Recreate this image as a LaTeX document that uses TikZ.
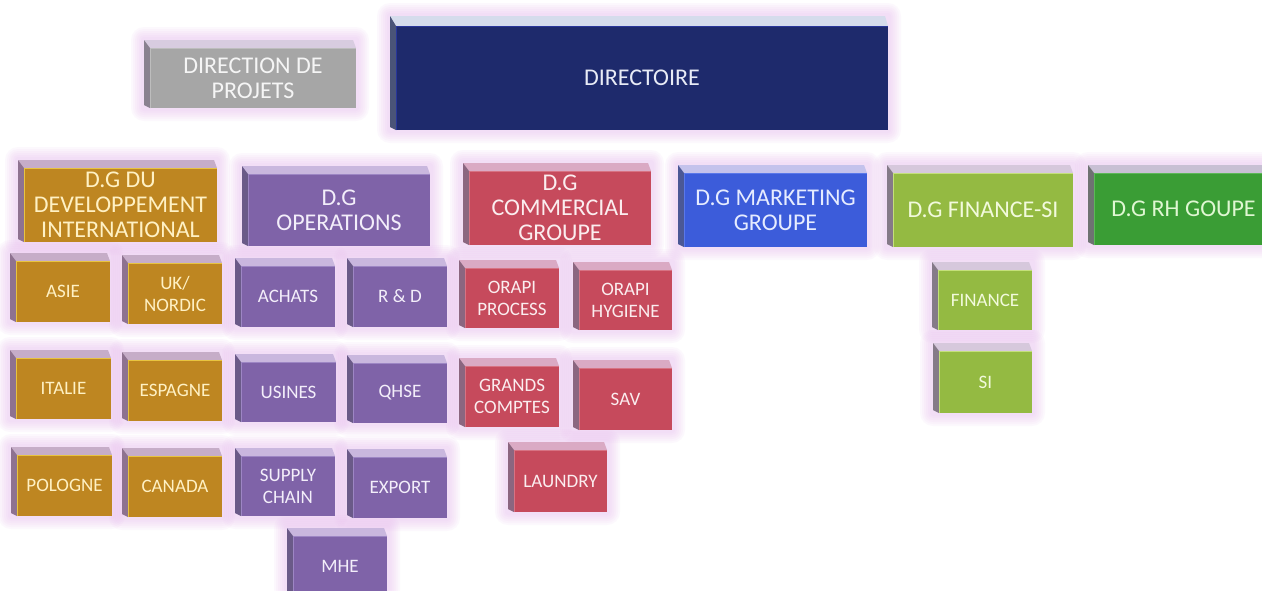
\documentclass[tikz,border=0pt]{standalone}
\usepackage{fontspec}
\setmainfont{Carlito}
\pgfdeclarelayer{bg}
\pgfsetlayers{bg,main}
% glow
\definecolor{glowP}{HTML}{E7B6EE}
% navy
\definecolor{navF}{HTML}{1E2A6C}\definecolor{navT}{HTML}{D5DCEC}\definecolor{navL}{HTML}{4A5478}\definecolor{navX}{HTML}{E8EBF6}\definecolor{navE}{HTML}{28369A}
% gray
\definecolor{grF}{HTML}{A6A6A6}\definecolor{grT}{HTML}{D8CCE0}\definecolor{grL}{HTML}{8A8290}\definecolor{grX}{HTML}{F5F5F5}\definecolor{grE}{HTML}{BDBDBD}
% orange
\definecolor{orF}{HTML}{BE8621}\definecolor{orT}{HTML}{C6ADC8}\definecolor{orL}{HTML}{8E7290}\definecolor{orX}{HTML}{FFF1C4}\definecolor{orE}{HTML}{E8C440}
% purple
\definecolor{puF}{HTML}{7F63A8}\definecolor{puT}{HTML}{C9B7DE}\definecolor{puL}{HTML}{6A5A88}\definecolor{puX}{HTML}{F3EEFA}\definecolor{puE}{HTML}{9D86C4}
% red
\definecolor{reF}{HTML}{C64A5C}\definecolor{reT}{HTML}{DAAAC4}\definecolor{reL}{HTML}{8B6680}\definecolor{reX}{HTML}{FBEDEF}\definecolor{reE}{HTML}{D77383}
% blue
\definecolor{blF}{HTML}{3C5CDA}\definecolor{blT}{HTML}{C4C2EC}\definecolor{blL}{HTML}{4B5896}\definecolor{blX}{HTML}{E6ECFF}\definecolor{blE}{HTML}{5A78EA}
% lime
\definecolor{liF}{HTML}{94BA42}\definecolor{liT}{HTML}{D6C8DC}\definecolor{liL}{HTML}{857A88}\definecolor{liX}{HTML}{F2FADC}\definecolor{liE}{HTML}{C4E07A}
% green
\definecolor{gnF}{HTML}{3A9D35}\definecolor{gnT}{HTML}{C8C0D4}\definecolor{gnL}{HTML}{6E7272}\definecolor{gnX}{HTML}{DFF7D2}\definecolor{gnE}{HTML}{5CB858}
\newcommand\bigf{\fontsize{24}{25}\selectfont}
\newcommand\smallf{\fontsize{19}{22}\selectfont}
\def\dx{6}\def\dy{8}
% name, x0, y0, x1, y1, family, font, text
\newcommand\obox[8]{%
 \begin{pgfonlayer}{bg}
  \foreach \e in {13,11,9,7,5,3}{
   \fill[glowP,fill opacity=0.085,rounded corners={\e pt}] ({#2-\e},{#3-\e}) rectangle ({#4+\e},{#5+\e});
  }
 \end{pgfonlayer}
 \fill[#6T] (#2,#3) -- ({#4-3},#3) -- (#4,{#3+\dy}) -- ({#2+\dx},{#3+\dy}) -- cycle;
 \fill[#6L] (#2,#3) -- ({#2+\dx},{#3+\dy}) -- ({#2+\dx},#5) -- (#2,{#5-3}) -- cycle;
 \node[inner sep=0pt, outer sep=0pt, fill=#6F, text=#6X, font=#7, align=center,
   minimum width={#4-#2-\dx}, minimum height={#5-#3-\dy}]
   (#1) at ({(#2+\dx+#4)/2},{(#3+\dy+#5)/2}) {#8};
 \draw[#6E, line width=1pt] ({#2+\dx+0.5},#5) -- ({#2+\dx+0.5},{#3+\dy+0.5}) -- (#4,{#3+\dy+0.5});
}
\begin{document}
\begin{tikzpicture}[x=1pt,y=-1pt]
\begin{pgfonlayer}{bg}
\fill[white] (0,0) rectangle (1262,590);
\end{pgfonlayer}
\useasboundingbox (0,0) rectangle (1262,590);
% top level
\obox{dirproj}{144}{40}{356}{108}{gr}{\bigf}{DIRECTION DE\\PROJETS}
{\def\dy{10}\obox{directoire}{390}{16}{888}{130}{nav}{\bigf}{DIRECTOIRE}}
% D.G level
\obox{dgdev}{18}{160}{217}{242}{or}{\bigf}{D.G DU\\DEVELOPPEMENT\\INTERNATIONAL}
\obox{dgops}{242}{166}{430}{246}{pu}{\bigf}{D.G\\OPERATIONS}
\obox{dgcom}{463}{163}{651}{245}{re}{\bigf}{D.G\\COMMERCIAL\\GROUPE}
\obox{dgmkt}{678}{165}{867}{247}{bl}{\bigf}{D.G MARKETING\\GROUPE}
\obox{dgfin}{887}{165}{1073}{247}{li}{\bigf}{D.G FINANCE-SI}
\obox{dgrh}{1088}{165}{1273}{245}{gn}{\bigf}{D.G RH GOUPE}
% international
\obox{asie}{10}{253}{110}{322}{or}{\smallf}{ASIE}
\obox{uk}{122}{255}{222}{324}{or}{\smallf}{UK/\\NORDIC}
\obox{italie}{10}{350}{111}{419}{or}{\smallf}{ITALIE}
\obox{espagne}{122}{352}{222}{421}{or}{\smallf}{ESPAGNE}
\obox{pologne}{11}{447}{112}{516}{or}{\smallf}{POLOGNE}
\obox{canada}{122}{448}{222}{517}{or}{\smallf}{CANADA}
% operations
\obox{achats}{235}{258}{335}{327}{pu}{\smallf}{ACHATS}
\obox{rd}{347}{258}{447}{327}{pu}{\smallf}{R \& D}
\obox{usines}{235}{354}{336}{422}{pu}{\smallf}{USINES}
\obox{qhse}{347}{355}{447}{423}{pu}{\smallf}{QHSE}
\obox{supply}{235}{448}{335}{516}{pu}{\smallf}{SUPPLY\\CHAIN}
\obox{export}{347}{449}{447}{518}{pu}{\smallf}{EXPORT}
\obox{mhe}{287}{528}{387}{596}{pu}{\smallf}{MHE}
% commercial
\obox{orproc}{459}{260}{559}{328}{re}{\smallf}{ORAPI\\PROCESS}
\obox{orhyg}{573}{262}{672}{330}{re}{\smallf}{ORAPI\\HYGIENE}
\obox{grands}{459}{358}{559}{427}{re}{\smallf}{GRANDS\\COMPTES}
\obox{sav}{573}{360}{672}{430}{re}{\smallf}{SAV}
\obox{laundry}{508}{442}{607}{512}{re}{\smallf}{LAUNDRY}
% finance
\obox{finance}{932}{262}{1032}{330}{li}{\smallf}{FINANCE}
\obox{si}{933}{343}{1032}{413}{li}{\smallf}{SI}
\end{tikzpicture}
\end{document}
